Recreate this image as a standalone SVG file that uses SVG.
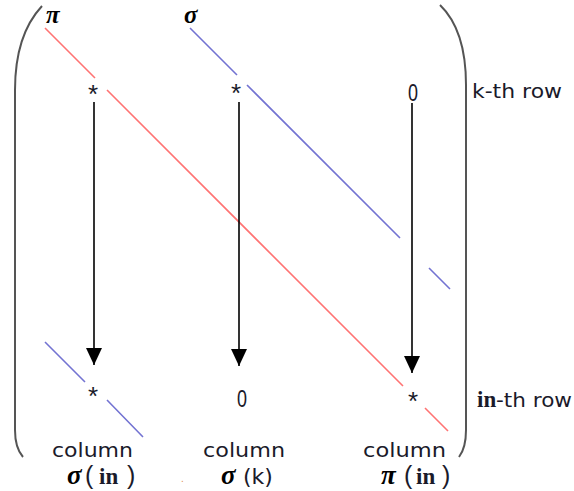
<svg xmlns="http://www.w3.org/2000/svg" width="574" height="491" viewBox="0 0 574 491">
<style>
.par{fill:none;stroke:#555;stroke-width:2}
.red{stroke:#ff7373;stroke-width:1.6;fill:none}
.blue{stroke:#7373d2;stroke-width:1.6;fill:none}
.arr{stroke:#000;stroke-width:1.6;fill:none}
.t{font-family:"DejaVu Sans",sans-serif;font-size:20px;fill:#1a1a2a}
.st{font-family:"Liberation Sans",Arial,sans-serif;font-size:26px;fill:#1a1a2a}
.pr{font-family:"Liberation Sans",Arial,sans-serif;font-size:25px;fill:#1a1a2a}
.z{font-family:"Liberation Sans",Arial,sans-serif;font-size:24px;fill:#1a1a2a}
.g{font-family:"Liberation Serif","Times New Roman",serif;font-size:30px;font-weight:bold;font-style:italic;fill:#000}
.s{font-family:"Liberation Serif","Times New Roman",serif;font-size:23px;font-weight:bold;fill:#1a1a2a}
</style>
<defs>
<marker id="ah" markerUnits="userSpaceOnUse" markerWidth="17" markerHeight="16" refX="17" refY="8" orient="auto" viewBox="0 0 17 16">
<path d="M0,0 L17,8 L0,16 Z" fill="#000"/>
</marker>
</defs>
<g id="brackets">
<path class="par" d="M42,6 Q15,35 15,90 L15,430 Q15,448 23,457"/>
<path class="par" d="M440,5 Q466,30 466,85 L466,430 Q466,448 459,457"/>
</g>
<g id="diagonals">
<path class="red" d="M45,28 L95,78 M107,90 L403,386 M425,408 L448,431"/>
<path class="blue" d="M190,28 L237,75 M247,85 L400,238 M429,268 L450,289"/>
<path class="blue" d="M45,342 L85,382 M107,400 L143,437"/>
</g>
<g id="connectors">
<line class="arr" x1="94" y1="102" x2="94" y2="365" marker-end="url(#ah)"/>
<line class="arr" x1="239" y1="102" x2="239" y2="366" marker-end="url(#ah)"/>
<line class="arr" x1="412" y1="103" x2="412" y2="373" marker-end="url(#ah)"/>
</g>
<g id="top-labels">
<text class="g" x="46" y="23" style="font-size:25px">π</text>
<text class="g" x="184" y="23" style="font-size:25px">σ</text>
</g>
<g id="entries">
<text class="st" x="93" y="103" text-anchor="middle">*</text>
<text class="st" x="236" y="102" text-anchor="middle">*</text>
<text class="z" x="408" y="101" textLength="10" lengthAdjust="spacingAndGlyphs">0</text>
<text class="st" x="93" y="405" text-anchor="middle">*</text>
<text class="st" x="413" y="410" text-anchor="middle">*</text>
<text class="z" x="237" y="407" textLength="10" lengthAdjust="spacingAndGlyphs">0</text>
</g>
<g id="row-labels">
<text class="t" x="472" y="98" textLength="90" lengthAdjust="spacingAndGlyphs">k-th row</text>
<text class="t" x="477" y="407"><tspan class="s">in</tspan><tspan x="496" textLength="76" lengthAdjust="spacingAndGlyphs">-th row</tspan></text>
</g>
<g id="col1">
<text class="t" x="52" y="457" textLength="81" lengthAdjust="spacingAndGlyphs">column</text>
<text x="67" y="484"><tspan class="g" style="font-size:27px">σ</tspan><tspan class="pr" x="85">(</tspan><tspan class="s" x="99">in</tspan><tspan class="pr" x="127">)</tspan></text>
</g>
<g id="col2">
<text class="t" x="203" y="457" textLength="82" lengthAdjust="spacingAndGlyphs">column</text>
<text x="221" y="484"><tspan class="g" style="font-size:27px">σ</tspan><tspan class="t" x="243" style="font-size:22px">(k)</tspan></text>
</g>
<g id="col3">
<text class="t" x="363" y="457" textLength="83" lengthAdjust="spacingAndGlyphs">column</text>
<text x="381" y="484"><tspan class="g" style="font-size:27px">π</tspan><tspan class="pr" x="404">(</tspan><tspan class="s" x="416">in</tspan><tspan class="pr" x="442">)</tspan></text>
</g>
<text x="181" y="482" font-family="Liberation Sans,sans-serif" font-size="10" fill="#e09050">.</text>
</svg>
